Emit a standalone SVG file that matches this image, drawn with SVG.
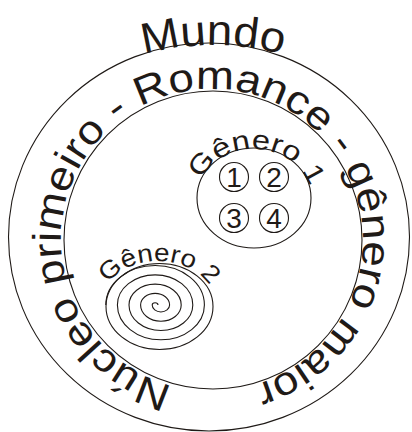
<svg xmlns="http://www.w3.org/2000/svg" width="412" height="432" viewBox="0 0 412 432">
<style>
.ln{fill:none;stroke:#1f1a17;stroke-width:1.1}
.tx{font-family:"Liberation Sans",Arial,sans-serif;fill:#1f1a17}
</style>
<defs>
<path id="pMundo" d="M113,65 A260,260 0 0 1 313,65"/>
<path id="pRing" d="M172.9,385.9 A151,151 0 1 1 248.5,386.5"/>
<path id="pG1" d="M201,179.9 A58,52 0 0 1 310.7,190.2"/>
<path id="pG2" d="M107.8,283.5 A58,45 0 0 1 210.6,287"/>
</defs>
<rect width="412" height="432" fill="#fff"/>
<g id="mundo">
<ellipse class="ln" cx="209" cy="237" rx="200.5" ry="194"/>
<text class="tx" font-size="43"><textPath href="#pMundo" startOffset="50%" text-anchor="middle" textLength="140" lengthAdjust="spacingAndGlyphs">Mundo</textPath></text>
</g>
<g id="nucleo">
<circle class="ln" cx="213" cy="240" r="149"/>
<text class="tx" font-size="40"><textPath href="#pRing" textLength="865" lengthAdjust="spacingAndGlyphs">Núcleo primeiro - Romance - gênero maior</textPath></text>
</g>
<g id="genero1">
<ellipse class="ln" cx="254" cy="198" rx="57" ry="50"/>
<text class="tx" font-size="27"><textPath href="#pG1" textLength="136" lengthAdjust="spacingAndGlyphs">Gênero 1</textPath></text>
<g id="n1"><circle class="ln" cx="234" cy="177" r="14.5"/><text class="tx" font-size="28" x="234" y="187" text-anchor="middle">1</text></g>
<g id="n2"><circle class="ln" cx="274" cy="177" r="14.5"/><text class="tx" font-size="28" x="274" y="187" text-anchor="middle">2</text></g>
<g id="n3"><circle class="ln" cx="234" cy="218" r="14.5"/><text class="tx" font-size="28" x="234" y="228" text-anchor="middle">3</text></g>
<g id="n4"><circle class="ln" cx="274" cy="218" r="14.5"/><text class="tx" font-size="28" x="274" y="228" text-anchor="middle">4</text></g>
</g>
<g id="genero2">
<path class="ln" d="M158,305 A2.9,2.32 0 0 0 152.2,305 A8.7,6.96 0 0 0 169.6,305 A14.5,11.6 0 0 0 140.6,305 A20.3,16.24 0 0 0 181.2,305 A26.1,20.88 0 0 0 129,305 A31.9,25.52 0 0 0 192.8,305 A37.7,30.16 0 0 0 117.4,305 A43.5,34.8 0 0 0 204.4,305 A49.3,39.44 0 0 0 105.8,305"/>
<ellipse class="ln" cx="159.5" cy="306.5" rx="53.5" ry="43"/>
<text class="tx" font-size="25"><textPath href="#pG2" textLength="116" lengthAdjust="spacingAndGlyphs">Gênero 2</textPath></text>
</g>
<g id="connectors"/>
</svg>
